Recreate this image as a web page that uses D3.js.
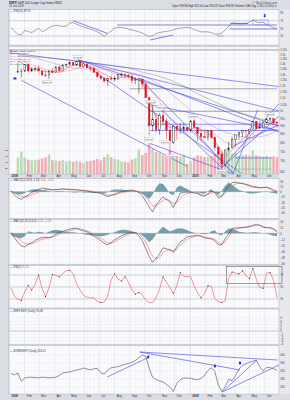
<!DOCTYPE html>
<html><head><meta charset="utf-8">
<script src="https://cdn.jsdelivr.net/npm/d3@7/dist/d3.min.js"></script>
<style>
html,body{margin:0;padding:0;background:#dadde4;}
svg{display:block;}
text{font-family:"Liberation Sans","DejaVu Sans",sans-serif;}
</style></head><body>
<svg id="chart" width="290" height="400"></svg>
<script>
// ---------------- DATA ----------------
const weeks = ["2008-01-04","2008-01-11","2008-01-18","2008-01-25","2008-02-01","2008-02-08","2008-02-15","2008-02-22","2008-02-29","2008-03-07",
"2008-03-14","2008-03-21","2008-03-28","2008-04-04","2008-04-11","2008-04-18","2008-04-25","2008-05-02","2008-05-09","2008-05-16",
"2008-05-23","2008-05-30","2008-06-06","2008-06-13","2008-06-20","2008-06-27","2008-07-04","2008-07-11","2008-07-18","2008-07-25",
"2008-08-01","2008-08-08","2008-08-15","2008-08-22","2008-08-29","2008-09-05","2008-09-12","2008-09-19","2008-09-26","2008-10-03",
"2008-10-10","2008-10-17","2008-10-24","2008-10-31","2008-11-07","2008-11-14","2008-11-21","2008-11-28","2008-12-05","2008-12-12",
"2008-12-19","2008-12-26","2009-01-02","2009-01-09","2009-01-16","2009-01-23","2009-01-30","2009-02-06","2009-02-13","2009-02-20",
"2009-02-27","2009-03-06","2009-03-13","2009-03-20","2009-03-27","2009-04-03","2009-04-10","2009-04-17","2009-04-24","2009-05-01",
"2009-05-08","2009-05-15","2009-05-22","2009-05-29","2009-06-05","2009-06-12","2009-06-19","2009-06-26"];

const close = [null,null,1325,1330,1395,1331,1349,1353,1331,1294, 1289,1330,1316,1370,1333,1390,1398,1414,1388,1426,
 1375,1400,1361,1360,1318,1278,1262,1239,1261,1257, 1260,1296,1298,1292,1283,1242,1252,1255,1213,1099,
 899,940,876,968,930,873,800,896,876,879, 887,873,932,890,850,832,826,869,827,770,
 735,683,757,768,816,843,857,870,866,878, 929,882,887,919,940,946,921,918];
const high = [null,null,1410,1355,1396,1395,1368,1367,1388,1335, 1339,1341,1359,1381,1380,1395,1399,1422,1415,1428,
 1440,1406,1404,1370,1367,1333,1285,1273,1263,1292, 1285,1297,1314,1300,1303,1303,1274,1265,1256,1215,
 1099,1045,986,984,1007,947,903,905,896,918, 918,888,934,943,890,871,877,874,875,836,
 780,736,761,804,833,845,857,875,871,880, 930,930,930,920,951,956,945,928];
const low = [null,null,1312,1270,1322,1317,1321,1327,1330,1283, 1273,1257,1312,1316,1326,1325,1370,1379,1384,1386,
 1373,1362,1359,1326,1317,1272,1252,1225,1200,1244, 1234,1246,1276,1261,1262,1217,1212,1133,1180,1098,
 840,866,857,845,899,818,741,790,815,851, 857,858,857,888,804,804,825,812,818,754,
 731,667,672,748,771,779,814,828,826,846, 879,878,878,880,919,930,904,888];
const volume = [null,null,5.5,7.5,5.5,4.8,4.5,4.6,4.8,5.2, 5.5,6.5,4.6,4.5,4.3,4.7,4.1,4.4,4.0,4.3,
 4.0,3.7,4.2,4.3,4.6,5.0,4.5,5.6,6.6,5.6, 5.0,4.8,4.2,4.0,3.8,4.8,5.2,8.2,6.3,7.0,
 10.2,8.4,7.3,7.0,6.2,6.4,7.9,5.6,6.0,5.8, 6.4,3.4,4.2,5.6,6.2,5.9,5.7,5.8,5.9,6.5,
 7.4,7.6,7.5,7.6,6.9,7.1,6.1,6.3,6.4,6.2, 7.9,6.2,6.0,5.8,6.0,5.5,5.9,5.6];

const maDates = ["2008-01-18","2008-02-15","2008-03-14","2008-04-11","2008-05-09","2008-06-06","2008-07-04","2008-08-01","2008-08-29","2008-09-26",
 "2008-10-24","2008-11-21","2008-12-19","2009-01-16","2009-02-13","2009-03-13","2009-04-10","2009-05-08","2009-06-05","2009-06-26"];
const ma20  = [1430,1350,1325,1320,1390,1390,1320,1255,1285,1230,955,890,875,890,840,720,800,870,910,925];
const ma50  = [1460,1390,1345,1320,1345,1385,1360,1305,1270,1260,1110,950,885,880,860,800,765,820,880,905];
const ma100 = [1490,1470,1430,1390,1360,1350,1350,1340,1320,1290,1230,1140,1050,960,900,860,835,825,840,870];
const ma200 = [1480,1475,1465,1450,1435,1420,1400,1380,1360,1320,1290,1250,1195,1130,1080,1030,990,960,935,920];

const rsi14 = [52,43,34,33,45,42,39,45,50,42, 45,52,56,58,57,55,56,64,65,61, 57,54,51,48,45,41,36,29,37,43,
 50,53,52,51,48,46,44,41,38,33, 29,31,37,39,41,42,44,46,49,51, 52,53,51,47,44,41,41,41,39,35,
 35,38,46,55,64,63,62,62,63,66, 72,67,65,66,60,56,52,50];

const macd = [2,-9,-18,-22,-15,-9,-2,2,6,10, 9,7,5,6,7,8,7,6,6,5, 4,3,2,0,-2,-3,-5,-10,-14,-10,
 -7,-3,0,2,3,5,2,-2,-12,-27, -43,-58,-38,-25,-15,-22,-29,-45,-25,-4, -2,-1,-2,-3,-5,-11,-13,-6,2,-2,
 -17,-14,3,17,26,27,25,23,20,17, 13,12,11,12,13,8,3,-1];
const macdSignal = [3,-2,-9,-14,-15,-13,-9,-5,-1,3, 6,7,6,6,6,7,7,7,6,6, 5,4,3,2,0,-1,-3,-6,-10,-10,
 -9,-6,-3,-1,1,3,3,1,-4,-14, -27,-41,-40,-33,-24,-22,-25,-34,-31,-18, -9,-5,-3,-3,-4,-7,-10,-9,-3,-2,
 -9,-12,-5,7,17,22,24,24,22,19, 16,14,12,12,12,10,6,3];
const macdHist = [0,-5,-8,-7,-4,3,6,7,6,5, 4,2,0,1,2,1,0,-1,-2,-2, -1,-2,-2,-3,-3,-3,-4,-5,-1,4,
 6,6,6,5,4,3,1,-2,-6,-13, -21,-8,12,24,22,9,-6,-10,12,18, 12,8,2,0,-2,-4,-6,1,7,-2,
 -9,2,17,26,20,12,5,2,-2,-5, -5,-4,-2,0,1,-2,-4,-6];

const ppo = [0,-9,-18,-25,-27,-22,-19,-14,-11,-8, -8,-9,-6,-2,2,4,6,8,10,10, 7,5,3,-1,-6,-10,-15,-20,-23,-18,
 -13,-9,-5,-2,1,1,1,-5,-15,-30, -46,-58,-50,-41,-29,-31,-33,-38,-27,-17, -13,-7,-6,-5,-4,-6,-9,-10,-11,-15,
 -23,-23,-11,-1,9,11,11,12,12,14, 16,18,16,12,11,11,8,3];
const ppoSignal = [2,-3,-9,-15,-20,-22,-21,-18,-15,-12, -10,-9,-8,-5,-2,1,3,5,7,9, 9,7,5,2,-2,-6,-10,-15,-19,-20,
 -17,-13,-9,-5,-2,0,1,-1,-7,-18, -32,-46,-52,-48,-39,-34,-33,-35,-32,-24, -18,-12,-9,-7,-5,-5,-7,-9,-10,-12,
 -18,-22,-17,-8,2,8,10,11,12,13, 14,16,16,14,12,11,9,5];
const ppoHist = [-3,-7,-9,-10,-6,4,2,1,3,2, 0,3,6,7,6,4,3,2,2,1, 0,-2,-3,-4,-5,-6,-6,-5,-3,0,
 2,5,7,7,6,4,2,0,-4,-10, -18,-12,-2,6,13,8,4,6,9,10, 9,6,3,1,0,-1,-2,-1,4,6,
 -2,-4,4,9,10,6,3,2,1,1, 2,2,1,0,-1,-3,-5,-6];

const rsi5 = [48,35,29,28,42,53,45,55,70,48, 34,49,71,69,67,73,77,78,72,55, 45,36,33,32,32,26,24,25,35,62,
 72,63,60,67,58,45,38,41,37,28, 24,24,32,47,67,58,49,39,52,74, 68,67,67,52,40,32,39,52,51,31,
 25,24,27,65,75,73,72,77,69,64, 81,63,49,48,73,74,61,32];

const ratio = [308,301,310,269,285,288,289,287,286,289, 288,286,287,289,298,310,313,315,320,325,
 329,335,330,326,331,333,311,304,324,336, 339,342,348,353,358,364,372,386,400,393,
 335,288,278,270,265,253,241,218,258,277, 285,285,284,279,276,283,297,322,336,318,
 251,218,242,278,272,297,330,348,356,364, 369,374,341,321,339,337,331,324];

// tick labels
const priceTicks = [650,700,750,800,850,900,950,1000,1050,1100,1150,1200,1250,1300,1350,1400,1450,1500,1550];
const volTicks = [2,4,6,8];
const rsiTicks = [30,50,70,90];
const macdTicks = [-60,-45,-30,-15,0,15,30];
const ppoTicks = [-60,-48,-36,-24,-12,0,12,24];
const rsi5Ticks = [30,50,70];
const emptyTicks = [-4,-3,-2,-1,0,1,2,3,4];
const ratioTicks = [240,280,320,360,400];

// annotations (date, value pairs)
const mainTrend = [
 ["2008-01-01",1516,"2009-06-30",1191],
 ["2008-05-19",1440,"2009-06-30",1000],
 ["2008-05-19",1440,"2009-06-30",898],
 ["2008-05-19",1440,"2009-04-15",640],
 ["2008-09-19",1265,"2009-03-31",640],
 ["2008-09-19",1265,"2009-06-30",860],
 ["2008-10-14",1044,"2009-06-30",870],
 ["2008-11-04",1007,"2009-03-06",667],
 ["2008-01-25",1245,"2008-12-26",673],
 ["2009-03-06",667,"2009-06-30",1054],
 ["2009-03-06",667,"2009-06-30",964],
 ["2009-03-30",780,"2009-06-30",905],
 ["2009-03-29",638,"2008-10-12",793],
 ["2009-03-29",638,"2009-01-11",862],
 ["2009-03-29",638,"2009-05-18",1012]
];
const greyLevels = [["2007-12-31","2009-06-30",1547],["2008-09-01","2009-06-26",1172],["2008-10-12","2009-06-30",998]];
const blueLevels = [["2008-10-06","2009-06-26",910],["2008-10-12","2009-06-26",870],["2009-04-02","2009-06-16",715]];
const lavLevels = [["2009-04-02","2009-06-16",660]];
const priceNotes = [["2008-05-19",1440.24,"1440.24",1],["2008-03-17",1256.98,"1256.98",0],["2008-10-14",1044.31,"1044.31",1],
 ["2008-11-04",1007.51,"1007.51",1],["2009-01-06",943.85,"943.85",1],["2009-06-12",956.23,"956.23",1],
 ["2008-10-10",839.80,"839.80",0],["2008-11-13",818.69,"818.69",0],["2008-11-21",741.02,"741.02",0],["2009-03-06",666.79,"666.79",0]];
const mainMark = ["2008-01-12",1262];

const rsiTrend = [["2008-05-09",70.1,"2008-07-17",37.2],["2008-10-12",19.7,"2008-11-27",32.7],["2008-08-06",58.9,"2009-06-26",58.9],
 ["2009-03-23",48.4,"2009-06-26",48.4],["2009-03-23",63.3,"2009-04-28",63]];
const rsiBox = ["2009-05-08",72,"2009-06-08",59];
const rsiSpot = ["2009-02-24",33,"2009-03-11",28];
const rsiArrow = ["2009-06-01",81];

const rsi5Box = ["2009-03-16",84,"2009-07-06",56];

const ratioTrend = [["2008-09-21",415,"2009-06-27",375],["2008-09-21",415,"2009-04-12",325],["2008-07-17",290,"2008-10-06",385],
 ["2009-03-07",215,"2009-05-16",375],["2009-03-07",215,"2009-06-30",350]];
const ratioMarks = [["2008-10-08",390],["2009-02-20",345],["2009-04-12",360]];

const mainLegend = [["$SPX (Daily) 918.90","#000"],["MA(20) 925.08","#d83838"],["MA(50) 905.12","#f08c8c"],
 ["MA(100) 870.31","#b878c8"],["MA(200) 920.46","#8c8c8c"],["Volume 5.6B","#5f9f5f"]];

// ---------------- CHART ----------------
const parse = d3.timeParse("%Y-%m-%d");
const W = weeks.map(parse);
const MD = maDates.map(parse);
const svg = d3.select("#chart");
const XL = 8.5, XR = 279;
const x = d3.scaleTime().domain([parse("2007-12-31"), parse("2009-06-30")]).range([9, 279]);
const months = d3.timeMonth.range(parse("2008-01-01"), parse("2009-07-01"));

const P = {
  rsi14:{top:9.5,bottom:45},
  main:{top:46.5,bottom:174},
  macd:{top:178.5,bottom:218.5},
  ppo:{top:219.5,bottom:264.5},
  rsi5:{top:265.5,bottom:308},
  empty:{top:309,bottom:344.5},
  ratio:{top:345.5,bottom:394}
};

svg.append("rect").attr("width",290).attr("height",400).attr("fill","#dadde4");
svg.append("rect").attr("x",XR).attr("y",9.5).attr("width",11).attr("height",384.5).attr("fill","#e7e9ee");

function panel(key, yScale, ticks, darkTicks){
  const p = P[key];
  svg.append("rect").attr("x",XL).attr("y",p.top).attr("width",XR-XL).attr("height",p.bottom-p.top)
    .attr("fill","#fcfcfe").attr("stroke","#a7acb9").attr("stroke-width",0.5);
  svg.append("clipPath").attr("id","clip-"+key).append("rect")
    .attr("x",XL).attr("y",p.top).attr("width",XR-XL).attr("height",p.bottom-p.top);
  const g = svg.append("g").attr("clip-path",`url(#clip-${key})`);
  g.selectAll(null).data(W).join("line")
    .attr("x1",d=>x(d)).attr("x2",d=>x(d)).attr("y1",p.top).attr("y2",p.bottom)
    .attr("stroke","#eceef4").attr("stroke-width",0.45);
  g.selectAll(null).data(months).join("line")
    .attr("x1",d=>x(d)).attr("x2",d=>x(d)).attr("y1",p.top).attr("y2",p.bottom)
    .attr("stroke",d=>d.getMonth()===0?"#c2c7d2":"#d9dce5").attr("stroke-width",0.5);
  if (yScale){
    g.selectAll(null).data(ticks).join("line")
      .attr("x1",XL).attr("x2",XR).attr("y1",d=>yScale(d)).attr("y2",d=>yScale(d))
      .attr("stroke",d=>(darkTicks||[]).includes(d)?"#a2a6b0":"#e6e8ee").attr("stroke-width",0.5);
    const ax = svg.append("g").attr("transform",`translate(${XR},0)`)
      .call(d3.axisRight(yScale).tickValues(ticks).tickSize(0).tickPadding(1.2));
    ax.select(".domain").remove();
    ax.selectAll("text").attr("font-size",2.7).attr("fill","#3a3a3a").attr("font-family","Liberation Sans, sans-serif");
  }
  return g;
}
function pathLine(g, dates, scale, values, color, w){
  g.append("path").datum(values.map((v,i)=>[dates[i],v]))
    .attr("d", d3.line().defined(d=>d[1]!=null).x(d=>x(d[0])).y(d=>scale(d[1])))
    .attr("fill","none").attr("stroke",color).attr("stroke-width",w).attr("stroke-linejoin","round");
}
function histArea(g, scale, values, color){
  g.append("path").datum(values.map((v,i)=>[W[i],v]))
    .attr("d", d3.area().x(d=>x(d[0])).y0(scale(0)).y1(d=>scale(d[1])))
    .attr("fill",color).attr("opacity",0.85);
}
function segs(g, arr, scale, color, w){
  g.selectAll(null).data(arr).join("line")
    .attr("x1",d=>x(parse(d[0]))).attr("y1",d=>scale(d[1]))
    .attr("x2",d=>x(parse(d[2]))).attr("y2",d=>scale(d[3]))
    .attr("stroke",color).attr("stroke-width",w);
}
function label(yPos, parts){
  const t = svg.append("text").attr("x",10).attr("y",yPos).attr("font-size",2.7);
  parts.forEach(([s,c])=>t.append("tspan").attr("fill",c).text(s));
}
function dateAxis(yPos){
  const ax = svg.append("g").attr("transform",`translate(0,${yPos})`)
    .call(d3.axisBottom(x).tickValues(months).tickSize(0).tickPadding(0)
      .tickFormat(d=>d.getMonth()===0?d3.timeFormat("%Y")(d):d3.timeFormat("%b")(d)));
  ax.select(".domain").remove();
  ax.selectAll("text").attr("font-size",2.9).attr("fill","#333").attr("text-anchor","start").attr("dx",1.5)
    .attr("font-weight",d=>d.getMonth()===0?"bold":"normal").attr("font-family","Liberation Sans, sans-serif");
}

// ---- header
const h1 = svg.append("text").attr("x",9).attr("y",3.6).attr("font-size",3.1).attr("fill","#222");
h1.append("tspan").attr("font-weight","bold").text("$SPX ");
h1.append("tspan").text(" S&P 500 Large Cap Index  INDX");
svg.append("text").attr("x",9).attr("y",7).attr("font-size",2.7).attr("fill","#444").text("26-Jun-2009");
svg.append("text").attr("x",277).attr("y",3.6).attr("font-size",2.8).attr("fill","#444").attr("text-anchor","end").text("© StockCharts.com");
svg.append("text").attr("x",277).attr("y",7).attr("font-size",2.7).attr("fill","#222").attr("text-anchor","end")
  .text("Open 918.84  High 922.00  Low 913.03  Close 918.90  Volume 5.6B  Chg -1.36 (-0.15%) ▼");

// ---- RSI(14) panel
const yR14 = d3.scaleLinear().domain([0,100]).range([47.525,9.275]);
const g0 = panel("rsi14", yR14, rsiTicks, [30,70]);
segs(g0, rsiTrend, yR14, "#4a4ae8", 0.7);
g0.append("rect").attr("x",x(parse(rsiBox[0]))).attr("y",yR14(rsiBox[1]))
  .attr("width",x(parse(rsiBox[2]))-x(parse(rsiBox[0]))).attr("height",yR14(rsiBox[3])-yR14(rsiBox[1]))
  .attr("fill","none").attr("stroke","#8e8ee8").attr("stroke-width",0.6);
g0.append("rect").attr("x",x(parse(rsiSpot[0]))).attr("y",yR14(rsiSpot[1]))
  .attr("width",x(parse(rsiSpot[2]))-x(parse(rsiSpot[0]))).attr("height",yR14(rsiSpot[3])-yR14(rsiSpot[1]))
  .attr("fill","#b8b8f4").attr("opacity",0.8);
pathLine(g0, W, yR14, rsi14, "#555", 0.5);
{
  const ax = x(parse(rsiArrow[0])), ay = yR14(rsiArrow[1]);
  g0.append("path").attr("d",`M${ax-0.6},${ay-2.5}h1.2v1.6h1l-1.6,1.8l-1.6,-1.8h1z`).attr("fill","#2b2bd8");
}
label(12, [["— RSI(14) ","#333"],["49.70","#333"]]);

// ---- main panel
const yMain = d3.scaleLog().domain([628.5,1580]).range([176,47]);
const yVol = d3.scaleLinear().domain([0,10]).range([174,144]);
const g1 = panel("main", yMain, priceTicks, []);
// volume
g1.selectAll(null).data(W.map((d,i)=>i).filter(i=>volume[i]!=null)).join("rect")
  .attr("x",i=>x(W[i])-1.3).attr("width",2.6)
  .attr("y",i=>yVol(volume[i])).attr("height",i=>yVol(0)-yVol(volume[i]))
  .attr("fill",i=>(close[i-1]!=null && close[i]<close[i-1])?"#eea2aa":"#b2d6a8").attr("opacity",0.85);
// grey levels
g1.selectAll(null).data(greyLevels).join("line")
  .attr("x1",d=>x(parse(d[0]))).attr("x2",d=>x(parse(d[1]))).attr("y1",d=>yMain(d[2])).attr("y2",d=>yMain(d[2]))
  .attr("stroke","#6c6c72").attr("stroke-width",0.6);
// MAs
pathLine(g1, MD, yMain, ma200, "#9a9a9a", 0.6);
pathLine(g1, MD, yMain, ma100, "#c48ad0", 0.5);
pathLine(g1, MD, yMain, ma50, "#f2a0a0", 0.6);
pathLine(g1, MD, yMain, ma20, "#e05050", 0.5);
// trend lines
segs(g1, mainTrend, yMain, "#4a4ae8", 0.6);
g1.selectAll(null).data(blueLevels).join("line")
  .attr("x1",d=>x(parse(d[0]))).attr("x2",d=>x(parse(d[1]))).attr("y1",d=>yMain(d[2])).attr("y2",d=>yMain(d[2]))
  .attr("stroke","#4a4ae8").attr("stroke-width",0.6);
g1.selectAll(null).data(lavLevels).join("line")
  .attr("x1",d=>x(parse(d[0]))).attr("x2",d=>x(parse(d[1]))).attr("y1",d=>yMain(d[2])).attr("y2",d=>yMain(d[2]))
  .attr("stroke","#9a9af0").attr("stroke-width",0.6);
// candles
const isDown = i => close[i-1]!=null && close[i]<close[i-1];
const idx = W.map((d,i)=>i).filter(i=>close[i]!=null);
g1.selectAll(null).data(idx).join("line")
  .attr("x1",i=>x(W[i])).attr("x2",i=>x(W[i])).attr("y1",i=>yMain(high[i])).attr("y2",i=>yMain(low[i]))
  .attr("stroke",i=>isDown(i)?"#e0141c":"#111").attr("stroke-width",0.45);
g1.selectAll(null).data(idx).join("rect")
  .attr("x",i=>x(W[i])-0.8).attr("width",1.6)
  .attr("y",i=>{const o=close[i-1]??close[i];return yMain(Math.max(o,close[i]));})
  .attr("height",i=>{const o=close[i-1]??close[i];return Math.max(0.5,yMain(Math.min(o,close[i]))-yMain(Math.max(o,close[i])));})
  .attr("fill",i=>isDown(i)?"#e0141c":"#fff")
  .attr("stroke",i=>isDown(i)?"#e0141c":"#111").attr("stroke-width",0.4);
// mark
g1.append("rect").attr("x",x(parse(mainMark[0]))-1.5).attr("y",yMain(mainMark[1])-1).attr("width",3).attr("height",2).attr("fill","#2030e0");
// notes
priceNotes.forEach(([d,p,s,up])=>{
  const cx = x(parse(d)), cy = up? yMain(p)-3.2 : yMain(p)+3.4;
  const gg = g1.append("g");
  gg.append("rect").attr("x",cx-4.6).attr("y",cy-1.5).attr("width",9.2).attr("height",3)
    .attr("fill","#fff").attr("stroke","#9a9a9a").attr("stroke-width",0.3);
  gg.append("text").attr("x",cx).attr("y",cy+0.9).attr("text-anchor","middle").attr("font-size",2.4).attr("fill","#333").text(s);
});
// legend
mainLegend.forEach(([s,c],k)=>{
  const yy = 51.8 + k*2.65;
  svg.append("line").attr("x1",10).attr("x2",12.5).attr("y1",yy-0.8).attr("y2",yy-0.8).attr("stroke",c).attr("stroke-width",0.7);
  svg.append("text").attr("x",13.2).attr("y",yy).attr("font-size",2.4).attr("fill",c==="#000"?"#000":d3.color(c).darker(0.6)).text(s);
});
// volume axis on left
const vax = svg.append("g").attr("transform",`translate(${XL},0)`)
  .call(d3.axisLeft(yVol).tickValues(volTicks).tickSize(0).tickPadding(0.8).tickFormat(d=>d+"B"));
vax.select(".domain").remove();
vax.selectAll("text").attr("font-size",2.5).attr("fill","#444").attr("font-family","Liberation Sans, sans-serif");
dateAxis(175.2);

// ---- MACD panel
const yMacd = d3.scaleLinear().domain([-60,30]).range([212.7,181.2]);
const g2 = panel("macd", yMacd, macdTicks, []);
histArea(g2, yMacd, macdHist, "#5d8f9c");
g2.append("line").attr("x1",XL).attr("x2",XR).attr("y1",yMacd(0)).attr("y2",yMacd(0)).attr("stroke","#8e939d").attr("stroke-width",0.4);
pathLine(g2, W, yMacd, macdSignal, "#f06a6a", 0.6);
pathLine(g2, W, yMacd, macd, "#333", 0.55);
label(181.3, [["— MACD(12,26,9) ","#333"],["-1.03, ","#333"],["3.00, ","#e04848"],["-4.03","#4f8898"]]);

// ---- second MACD panel
const yPpo = d3.scaleLinear().domain([-60,30]).range([263.3,218.3]);
const g3 = panel("ppo", yPpo, ppoTicks, []);
histArea(g3, yPpo, ppoHist, "#5d8f9c");
g3.append("line").attr("x1",XL).attr("x2",XR).attr("y1",yPpo(0)).attr("y2",yPpo(0)).attr("stroke","#8e939d").attr("stroke-width",0.4);
pathLine(g3, W, yPpo, ppoSignal, "#f06a6a", 0.6);
pathLine(g3, W, yPpo, ppo, "#333", 0.55);
label(222.4, [["— MACD(5,35,5) ","#333"],["3.05, ","#333"],["5.21, ","#e04848"],["-2.16","#4f8898"]]);

// ---- RSI(5) panel
const yR5 = d3.scaleLinear().domain([0,100]).range([317,257]);
const g4 = panel("rsi5", yR5, rsi5Ticks, [30,50,70]);
pathLine(g4, W, yR5, rsi5, "#e46a72", 0.7);
const turns = rsi5.map((v,i)=>i).filter(i=>i>0 && i<rsi5.length-1 && ((rsi5[i]>rsi5[i-1]&&rsi5[i]>rsi5[i+1])||(rsi5[i]<rsi5[i-1]&&rsi5[i]<rsi5[i+1])));
g4.selectAll(null).data(turns).join("circle").attr("cx",i=>x(W[i])).attr("cy",i=>yR5(rsi5[i])).attr("r",0.5).attr("fill","#111");
svg.append("rect").attr("x",x(parse(rsi5Box[0]))).attr("y",yR5(rsi5Box[1]))
  .attr("width",x(parse(rsi5Box[2]))-x(parse(rsi5Box[0]))).attr("height",yR5(rsi5Box[3])-yR5(rsi5Box[1]))
  .attr("fill","none").attr("stroke","#444").attr("stroke-width",0.5);
label(268.3, [["— RSI(5) ","#333"],["31.70","#e04848"]]);

// ---- empty panel
const yEmp = d3.scaleLinear().domain([-4,4]).range([344,318]);
const g5 = panel("empty", yEmp, emptyTicks, []);
g5.append("line").attr("x1",XL).attr("x2",XR).attr("y1",yEmp(0)).attr("y2",yEmp(0)).attr("stroke","#a4a8b2").attr("stroke-width",0.55);
label(311.8, [["— $SPX:$VIX (Daily) ","#333"],["35.08","#333"]]);

// ---- ratio panel
const yRat = d3.scaleLinear().domain([200,440]).range([395,347]);
const g6 = panel("ratio", yRat, ratioTicks, []);
segs(g6, ratioTrend, yRat, "#5a5aee", 0.7);
pathLine(g6, W, yRat, ratio, "#3a3a3a", 0.55);
g6.selectAll(null).data(ratioMarks).join("rect")
  .attr("x",d=>x(parse(d[0]))-1).attr("y",d=>yRat(d[1])-1.4).attr("width",2).attr("height",2.8).attr("fill","#2030e0");
label(352.2, [["— $CRB:$SPX (Daily) ","#333"],["324.01","#333"]]);
dateAxis(395.3);
</script>
</body></html>
